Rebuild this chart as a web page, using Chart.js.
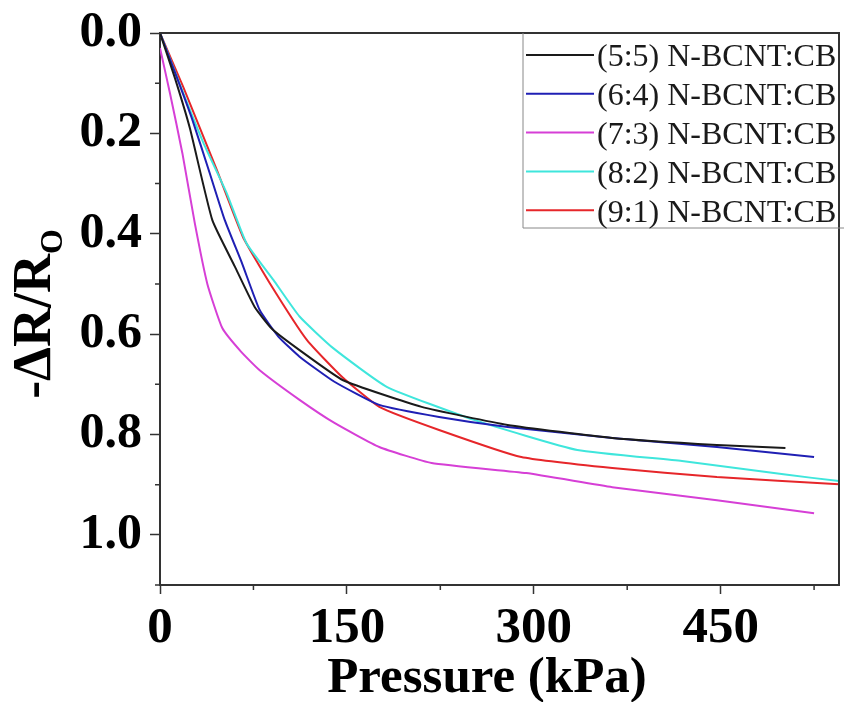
<!DOCTYPE html>
<html>
<head>
<meta charset="utf-8">
<script src="https://cdn.jsdelivr.net/npm/chart.js@4.4.1/dist/chart.umd.min.js"></script>
<style>
    body { margin: 0; background: #fff; }
    #chart { display: block; }
</style>
</head>
<body>
<canvas id="chart" width="844" height="702"></canvas>
<script>
//------------------------------------------- Data -------------------------------------------//
const series_labels = ['(5:5) N-BCNT:CB', '(6:4) N-BCNT:CB', '(7:3) N-BCNT:CB', '(8:2) N-BCNT:CB', '(9:1) N-BCNT:CB'];
const series_colors = ['#1a1a1a', '#1f1fb4', '#d63fd6', '#3fe6dc', '#e6262a'];

const pressure_55 = [0, 12, 24, 42, 60, 76, 90, 112, 147, 210, 279, 363, 447, 502];
const response_55 = [0, 0.09, 0.19, 0.373, 0.465, 0.546, 0.59, 0.632, 0.692, 0.745, 0.781, 0.807, 0.821, 0.827];

const pressure_64 = [0, 13, 26, 40, 52, 66, 80, 95, 112, 140, 176, 224, 279, 363, 447, 525];
const response_64 = [0, 0.085, 0.173, 0.28, 0.373, 0.46, 0.552, 0.605, 0.645, 0.695, 0.741, 0.765, 0.785, 0.807, 0.825, 0.845];

const pressure_73 = [0, 8, 18, 28, 38, 50, 65, 80, 112, 140, 176, 218, 294, 363, 447, 525];
const response_73 = [0.03, 0.12, 0.24, 0.38, 0.5, 0.588, 0.635, 0.672, 0.731, 0.777, 0.825, 0.857, 0.877, 0.905, 0.931, 0.957];

const pressure_82 = [0, 18.7, 35, 53.5, 69.4, 91, 112, 139, 182, 252, 335, 419, 502, 545];
const response_82 = [0, 0.12, 0.22, 0.319, 0.419, 0.492, 0.565, 0.628, 0.705, 0.771, 0.831, 0.853, 0.88, 0.893];

const pressure_91 = [0, 18.7, 45.6, 66.5, 88, 118, 146, 176, 224, 290, 363, 447, 545];
const response_91 = [0, 0.108, 0.273, 0.406, 0.498, 0.612, 0.685, 0.745, 0.791, 0.845, 0.867, 0.885, 0.899];

const x_max = 545;
const y_max = 1.1;

// Settings
const serif = "'Liberation Serif', 'Times New Roman', serif";
const axis_color = '#333';

//------------------------------------------- Helpers -------------------------------------------//
function toPoints(xs, ys) {
    return xs.map((x, i) => ({ x: x, y: ys[i] }));
}

function isMajorX(v) { return Math.round(v) % 150 === 0; }
function isMajorY(v) { return Math.round(v * 10) % 2 === 0; }

var all_x = [pressure_55, pressure_64, pressure_73, pressure_82, pressure_91];
var all_y = [response_55, response_64, response_73, response_82, response_91];

var datasets = series_labels.map((label, i) => ({
    label: label,
    data: toPoints(all_x[i], all_y[i]),
    borderColor: series_colors[i],
    borderWidth: 2,
    pointRadius: 0,
    tension: 0.15,
    fill: false
}));

// frame, minor ticks, axis titles, legend box
const decorations = {
    id: 'decorations',
    afterDraw(chart) {
        var ctx = chart.ctx;
        var area = chart.chartArea;
        var xs = chart.scales.x, ys = chart.scales.y;
        ctx.save();

        ctx.strokeStyle = axis_color;
        ctx.lineWidth = 2;
        ctx.beginPath();
        ctx.moveTo(area.left, area.top);
        ctx.lineTo(area.right, area.top);
        ctx.lineTo(area.right, area.bottom);
        ctx.stroke();

        // minor ticks
        ctx.lineWidth = 1.5;
        ctx.beginPath();
        xs.ticks.forEach(t => {
            if (!isMajorX(t.value)) {
                var px = xs.getPixelForValue(t.value);
                ctx.moveTo(px, area.bottom);
                ctx.lineTo(px, area.bottom + 5);
            }
        });
        ys.ticks.forEach(t => {
            if (!isMajorY(t.value)) {
                var py = ys.getPixelForValue(t.value);
                ctx.moveTo(area.left, py);
                ctx.lineTo(area.left - 5, py);
            }
        });
        ctx.stroke();

        // x title
        ctx.fillStyle = '#000';
        ctx.textAlign = 'center';
        ctx.textBaseline = 'alphabetic';
        ctx.font = 'bold 51px ' + serif;
        ctx.fillText('Pressure (kPa)', 487, 692);
        ctx.textAlign = 'left';

        // y title: -ΔR/R with subscript O
        ctx.translate(50, 314);
        ctx.rotate(-Math.PI / 2);
        ctx.font = 'bold 54px ' + serif;
        var main = '-\u0394R/R';
        var w = ctx.measureText(main).width;
        ctx.font = 'bold 32px ' + serif;
        var ws = ctx.measureText('O').width;
        var start = -(w + ws) / 2;
        ctx.font = 'bold 54px ' + serif;
        ctx.fillText(main, start, 0);
        ctx.font = 'bold 32px ' + serif;
        ctx.fillText('O', start + w, 12);
        ctx.setTransform(1, 0, 0, 1, 0, 0);

        // legend
        var lx = 523, ly = area.top, row = 38.8;
        ctx.strokeStyle = '#888';
        ctx.lineWidth = 1;
        ctx.beginPath();
        ctx.moveTo(lx, ly);
        ctx.lineTo(lx, ly + 195);
        ctx.lineTo(chart.width, ly + 195);
        ctx.stroke();
        ctx.font = '32px ' + serif;
        ctx.textBaseline = 'middle';
        ctx.fillStyle = '#1a1a1a';
        chart.data.datasets.forEach((ds, i) => {
            var y = ly + 22 + i * row;
            ctx.strokeStyle = ds.borderColor;
            ctx.lineWidth = 2;
            ctx.beginPath();
            ctx.moveTo(lx + 3, y);
            ctx.lineTo(lx + 71, y);
            ctx.stroke();
            ctx.fillText(ds.label, lx + 74, y + 3);
        });
        ctx.restore();
    }
};

//------------------------------------------- Chart -------------------------------------------//
var chart = new Chart(document.getElementById('chart'), {
    type: 'line',
    data: { datasets: datasets },
    plugins: [decorations],
    options: {
        responsive: false,
        animation: false,
        layout: { padding: { top: 33, right: 5, left: 0, bottom: 0 } },
        plugins: {
            legend: { display: false },
            tooltip: { enabled: false }
        },
        scales: {
            x: {
                type: 'linear',
                min: 0,
                max: x_max,
                afterFit: s => { s.height = 117; s.paddingLeft = 0; s.paddingRight = 0; },
                border: { color: axis_color, width: 2 },
                grid: {
                    drawOnChartArea: false,
                    tickLength: 9,
                    tickWidth: 1.5,
                    tickColor: c => isMajorX(c.tick.value) ? axis_color : 'rgba(0,0,0,0)'
                },
                ticks: {
                    stepSize: 75,
                    includeBounds: false,
                    padding: 4,
                    maxRotation: 0,
                    autoSkip: false,
                    color: '#000',
                    font: { family: serif, size: 51, weight: 'bold' },
                    callback: v => isMajorX(v) ? String(v) : ''
                }
            },
            y: {
                type: 'linear',
                reverse: true,
                min: 0,
                max: y_max,
                afterFit: s => { s.width = 160; s.paddingTop = 0; s.paddingBottom = 0; },
                border: { color: axis_color, width: 2 },
                grid: {
                    drawOnChartArea: false,
                    tickLength: 10,
                    tickWidth: 1.5,
                    tickColor: c => isMajorY(c.tick.value) ? axis_color : 'rgba(0,0,0,0)'
                },
                ticks: {
                    stepSize: 0.1,
                    includeBounds: false,
                    padding: 8,
                    autoSkip: false,
                    color: '#000',
                    font: { family: serif, size: 50, weight: 'bold' },
                    callback: v => isMajorY(v) ? v.toFixed(1) : ''
                }
            }
        }
    }
});
</script>
</body>
</html>
